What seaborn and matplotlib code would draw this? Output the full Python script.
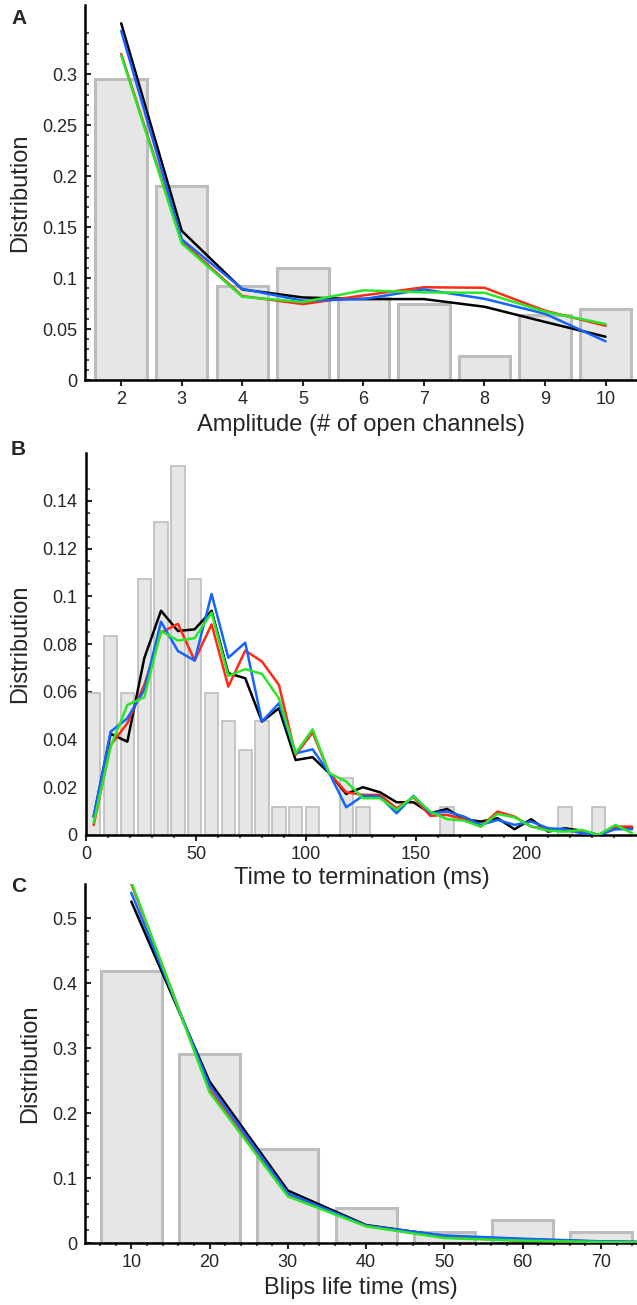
import numpy as np
import pandas as pd
import matplotlib
matplotlib.use("Agg")
import matplotlib.pyplot as plt
import seaborn as sns
from matplotlib.ticker import FixedLocator, FuncFormatter

# ---- Panel A: amplitude (# of open channels)
amp_channels = [2, 3, 4, 5, 6, 7, 8, 9, 10]
amp_hist = [0.295, 0.19, 0.0925, 0.1095, 0.080, 0.075, 0.0235, 0.064, 0.07]
amp_black = [0.350, 0.1464, 0.0889, 0.081, 0.0794, 0.0794, 0.0719, 0.057, 0.0425]
amp_blue = [0.3425, 0.138, 0.0895, 0.0778, 0.0794, 0.0889, 0.0797, 0.065, 0.038]
amp_red = [0.320, 0.136, 0.0824, 0.0745, 0.083, 0.091, 0.0905, 0.068, 0.0533]
amp_green = [0.3186, 0.134, 0.0817, 0.0765, 0.088, 0.086, 0.0856, 0.067, 0.055]

# ---- Panel B: time to termination (ms), bin centres
term_ms = [3.5, 11.2, 18.8, 26.5, 34.1, 41.8, 49.4, 57.1, 64.7, 72.4, 80.0,
           87.7, 95.3, 103.0, 110.6, 118.3, 125.9, 133.6, 141.2, 148.9, 156.5,
           164.2, 171.8, 179.5, 187.1, 194.8, 202.4, 210.1, 217.7, 225.4, 233.0,
           240.7, 248.3]
term_hist = [0.0595, 0.0833, 0.0595, 0.1071, 0.131, 0.1548, 0.1071, 0.0595,
             0.0476, 0.0357, 0.0476, 0.0119, 0.0119, 0.0119, 0.0, 0.0238,
             0.0119, 0.0, 0.0, 0.0, 0.0, 0.0119, 0.0, 0.0, 0.0, 0.0, 0.0, 0.0,
             0.0119, 0.0, 0.0119, 0.0, 0.0]
term_black = [0.0077, 0.0424, 0.0391, 0.0741, 0.094, 0.0855, 0.0862, 0.094,
              0.0678, 0.0657, 0.0475, 0.0531, 0.0314, 0.0326, 0.0259, 0.0172,
              0.020, 0.0179, 0.0137, 0.0137, 0.0091, 0.0109, 0.0066, 0.0056,
              0.007, 0.0024, 0.0066, 0.0014, 0.0028, 0.0018, 0.0, 0.0028, 0.0028]
term_blue = [0.0077, 0.0433, 0.0489, 0.0608, 0.0894, 0.0771, 0.0731, 0.101,
             0.0743, 0.0806, 0.0475, 0.0552, 0.0342, 0.0359, 0.0259, 0.0116,
             0.0164, 0.0161, 0.0091, 0.0164, 0.0091, 0.0098, 0.0077, 0.0042,
             0.0063, 0.0042, 0.0056, 0.0028, 0.0024, 0.0007, 0.0, 0.0024, 0.0024]
term_red = [0.0042, 0.0377, 0.0468, 0.0629, 0.0848, 0.0885, 0.0731, 0.0883,
            0.0622, 0.0773, 0.0727, 0.0629, 0.0335, 0.043, 0.0259, 0.0179,
            0.0168, 0.0168, 0.0112, 0.0158, 0.008, 0.0084, 0.0066, 0.0035,
            0.0098, 0.0077, 0.0035, 0.0024, 0.0018, 0.0014, 0.0, 0.0035, 0.0035]
term_green = [0.0052, 0.037, 0.0545, 0.0577, 0.0855, 0.0815, 0.0825, 0.0932,
              0.0667, 0.0695, 0.0675, 0.0573, 0.0342, 0.0443, 0.0259, 0.0224,
              0.0154, 0.0154, 0.0105, 0.0161, 0.0098, 0.0066, 0.006, 0.0035,
              0.0088, 0.0074, 0.0035, 0.0018, 0.0014, 0.0021, 0.0, 0.0042, 0.0007]

# ---- Panel C: blips life time (ms)
life_ms = [10, 20, 30, 40, 50, 60, 70]
life_hist = [0.418, 0.291, 0.145, 0.0545, 0.018, 0.036, 0.018]
life_curve_ms = [10, 20, 30, 40, 50, 60, 70, 80]
life_black = [0.5255, 0.2486, 0.081, 0.028, 0.0112, 0.006, 0.0026, 0.001]
life_blue = [0.539, 0.243, 0.077, 0.027, 0.012, 0.007, 0.003, 0.001]
life_red = [0.553, 0.236, 0.074, 0.027, 0.009, 0.004, 0.002, 0.001]
life_green = [0.556, 0.232, 0.072, 0.026, 0.008, 0.004, 0.002, 0.001]

models = ["black", "blue", "red", "green"]
palette = {"black": "#000000", "blue": "#1464ff", "red": "#ff2a14", "green": "#2ae62a"}
draw_order = ["black", "red", "blue", "green"]

BAR_FACE = "#e6e6e6"
BAR_EDGE = "#bdbdbd"


def long_curves(x, curves):
    rows = []
    for name, vals in zip(models, curves):
        for xi, v in zip(x, vals):
            rows.append({"x": xi, "p": v, "model": name})
    return pd.DataFrame(rows)


def style_axis(ax, ymajor, yminor, xmajor, xminor):
    sns.despine(ax=ax)
    for side in ("left", "bottom"):
        ax.spines[side].set_linewidth(1.8)
        ax.spines[side].set_color("black")
    ax.yaxis.set_major_locator(FixedLocator(ymajor))
    ax.yaxis.set_minor_locator(FixedLocator(yminor))
    ax.xaxis.set_major_locator(FixedLocator(xmajor))
    ax.xaxis.set_minor_locator(FixedLocator(xminor))
    ax.yaxis.set_major_formatter(FuncFormatter(lambda v, p: "%g" % round(v, 4)))
    ax.tick_params(axis="y", which="major", direction="in", length=4.5, width=1.5,
                   labelsize=13, pad=6)
    ax.tick_params(axis="y", which="minor", direction="in", length=2.8, width=1.1)
    ax.tick_params(axis="x", which="major", direction="out", length=4, width=1.5,
                   labelsize=13, pad=4)
    ax.tick_params(axis="x", which="minor", direction="out", length=2.2, width=1.1)
    ax.set_ylabel("Distribution", fontsize=17, labelpad=8)
    ax.patch.set_alpha(0)


def panel(ax, hist_df, width, edge_lw, curves_df):
    sns.barplot(data=hist_df, x="x", y="p", native_scale=True, width=width,
                color=BAR_FACE, edgecolor=BAR_EDGE, linewidth=edge_lw,
                saturation=1, errorbar=None, ax=ax, zorder=1)
    sns.lineplot(data=curves_df, x="x", y="p", hue="model", hue_order=draw_order,
                 palette=palette, linewidth=1.8, legend=False, ax=ax, zorder=3)


sns.set_style("ticks")
plt.rcParams["font.family"] = ["Liberation Sans", "DejaVu Sans"]

fig = plt.figure(figsize=(6.37, 13.05), dpi=100)

# --- A
axA = fig.add_axes([0.1342, 0.7088, 0.8658, 0.2874])
histA = pd.DataFrame({"x": amp_channels, "p": amp_hist})
curvesA = long_curves(amp_channels, [amp_black, amp_blue, amp_red, amp_green])
panel(axA, histA, 0.85, 2.2, curvesA)
axA.set_xlim(1.41, 10.52)
axA.set_ylim(0, 0.368)
style_axis(axA, [0, 0.05, 0.1, 0.15, 0.2, 0.25, 0.3],
           [i / 100 for i in range(0, 35)],
           amp_channels, [])
axA.set_xlabel("Amplitude (# of open channels)", fontsize=17, labelpad=4)

# --- B
axB = fig.add_axes([0.135, 0.3602, 0.865, 0.2930])
histB = pd.DataFrame({"x": term_ms, "p": term_hist})
histB = histB[histB["p"] > 0]
curvesB = long_curves(term_ms, [term_black, term_blue, term_red, term_green])
panel(axB, histB, 0.8, 1.2, curvesB)
axB.set_xlim(0, 250.5)
axB.set_ylim(0, 0.1603)
style_axis(axB, [0, 0.02, 0.04, 0.06, 0.08, 0.1, 0.12, 0.14],
           [i * 0.005 for i in range(0, 30)],
           [0, 50, 100, 150, 200], list(range(0, 250, 10)))
axB.set_xlabel("Time to termination (ms)", fontsize=17, labelpad=3)

# --- C
axC = fig.add_axes([0.1342, 0.0473, 0.8658, 0.2751])
histC = pd.DataFrame({"x": life_ms, "p": life_hist})
curvesC = long_curves(life_curve_ms, [life_black, life_blue, life_red, life_green])
panel(axC, histC, 0.78, 2.2, curvesC)
axC.set_xlim(4.15, 74.6)
axC.set_ylim(0, 0.552)
style_axis(axC, [0, 0.1, 0.2, 0.3, 0.4, 0.5],
           [i * 0.02 for i in range(0, 26)],
           life_ms, list(range(4, 75, 2)))
axC.set_xlabel("Blips life time (ms)", fontsize=17, labelpad=4)

for letter, ytop in (("A", 9), ("B", 440), ("C", 877)):
    fig.text(11 / 637, 1 - ytop / 1305, letter, fontsize=15, fontweight="bold",
             ha="left", va="top")

fig.savefig("out.png", dpi=100, facecolor="white")
